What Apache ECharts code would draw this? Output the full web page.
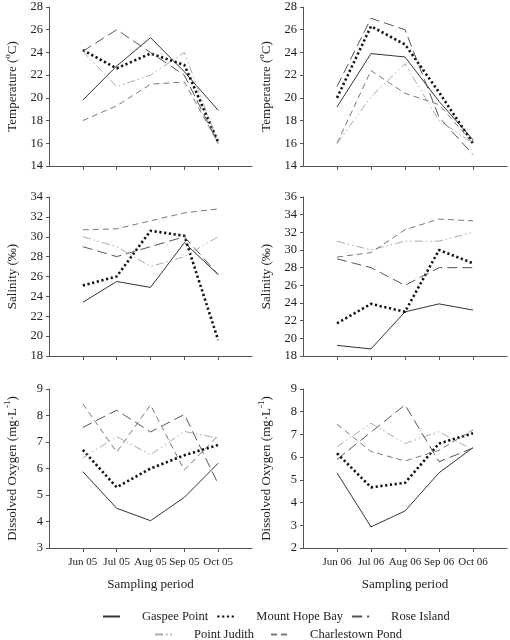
<!DOCTYPE html>
<html>
<head>
<meta charset="utf-8">
<script src="https://cdn.jsdelivr.net/npm/echarts@6/dist/echarts.min.js"></script>
<style>html,body{margin:0;padding:0;background:#fff}#c{width:510px;height:640px}</style>
</head>
<body>
<div id="c"></div>
<script>
const categories05 = ['Jun 05', 'Jul 05', 'Aug 05', 'Sep 05', 'Oct 05'];
const categories06 = ['Jun 06', 'Jul 06', 'Aug 06', 'Sep 06', 'Oct 06'];
const siteNames = ['Gaspee Point', 'Mount Hope Bay', 'Rose Island', 'Point Judith', 'Charlestown Pond'];

const temp05_gaspee = [19.8, 22.8, 25.3, 22.3, 18.9];
const temp05_mounthope = [24.2, 22.6, 23.9, 22.9, 16.1];
const temp05_rose = [24.1, 26.0, 24.0, 22.0, 16.0];
const temp05_judith = [24.1, 21.0, 22.0, 24.0, 16.0];
const temp05_charlestown = [18.0, 19.3, 21.2, 21.4, 16.0];

const temp06_gaspee = [19.2, 23.9, 23.6, 19.7, 16.3];
const temp06_mounthope = [20.0, 26.3, 24.7, 20.5, 16.0];
const temp06_rose = [21.0, 27.0, 26.0, 18.3, 15.0];
const temp06_judith = [16.0, 20.1, 23.0, 18.0, 16.0];
const temp06_charlestown = [16.0, 22.4, 20.4, 19.4, 16.0];

const sal05_gaspee = [23.4, 25.5, 24.9, 29.4, 26.2];
const sal05_mounthope = [25.1, 26.0, 30.6, 30.1, 19.6];
const sal05_rose = [29.0, 28.0, 29.0, 30.0, 26.2];
const sal05_judith = [30.0, 29.0, 27.0, 28.0, 30.0];
const sal05_charlestown = [30.7, 30.8, 31.6, 32.4, 32.8];

const sal06_gaspee = [19.2, 18.8, 23.0, 23.9, 23.2];
const sal06_mounthope = [21.7, 23.9, 23.0, 30.0, 28.5];
const sal06_rose = [29.0, 28.0, 26.0, 28.0, 28.0];
const sal06_judith = [31.0, 30.0, 31.0, 31.0, 32.0];
const sal06_charlestown = [29.2, 29.7, 32.3, 33.5, 33.3];

const do05_gaspee = [5.88, 4.5, 4.03, 4.91, 6.2];
const do05_mounthope = [6.7, 5.29, 6.0, 6.5, 6.89];
const do05_rose = [7.55, 8.2, 7.38, 8.04, 5.42];
const do05_judith = [6.4, 7.2, 6.52, 7.4, 7.14];
const do05_charlestown = [8.44, 6.62, 8.4, 5.94, 7.25];

const do06_gaspee = [5.31, 2.93, 3.63, 5.31, 6.42];
const do06_mounthope = [6.17, 4.67, 4.87, 6.6, 7.05];
const do06_rose = [5.9, 7.1, 8.3, 5.8, 6.4];
const do06_judith = [6.46, 7.49, 6.6, 7.12, 6.31];
const do06_charlestown = [7.45, 6.25, 5.83, 6.3, 7.2];

const panels = [
  { cats: categories05, data: [temp05_gaspee, temp05_mounthope, temp05_rose, temp05_judith, temp05_charlestown], min: 14, max: 28, step: 2, name: 'temp' },
  { cats: categories06, data: [temp06_gaspee, temp06_mounthope, temp06_rose, temp06_judith, temp06_charlestown], min: 14, max: 28, step: 2, name: 'temp' },
  { cats: categories05, data: [sal05_gaspee, sal05_mounthope, sal05_rose, sal05_judith, sal05_charlestown], min: 18, max: 34, step: 2, name: 'sal' },
  { cats: categories06, data: [sal06_gaspee, sal06_mounthope, sal06_rose, sal06_judith, sal06_charlestown], min: 18, max: 36, step: 2, name: 'sal' },
  { cats: categories05, data: [do05_gaspee, do05_mounthope, do05_rose, do05_judith, do05_charlestown], min: 3, max: 9, step: 1, name: 'do' },
  { cats: categories06, data: [do06_gaspee, do06_mounthope, do06_rose, do06_judith, do06_charlestown], min: 2, max: 9, step: 1, name: 'do' }
];

const FONT = "'Liberation Serif', 'Times New Roman', serif";
const styles = [
  { color: '#333', width: 1, type: 'solid' },
  { color: '#111', width: 2.6, type: [2.2, 2.6] },
  { color: '#555', width: 1, type: [10, 5] },
  { color: '#aaa', width: 1, type: [8, 3, 1.5, 3, 1.5, 3] },
  { color: '#777', width: 1, type: [6, 4] }
];

const names = {
  temp: '{n|Temperature (}{s|o}{n|C)}',
  sal: '{n|Salinity (‰)}',
  do: '{n|Dissolved Oxygen (mg·L}{s|-1}{n|)}'
};

const lefts = [49, 303];
const widths = [203, 204];
const tops = [7, 197, 389];
const H = 159;

const grid = [], xAxis = [], yAxis = [], series = [];
panels.forEach((p, i) => {
  const col = i % 2, row = Math.floor(i / 2);
  grid.push({ left: lefts[col], top: tops[row], width: widths[col], height: H });
  const bottom = row === 2;
  xAxis.push({
    type: 'category', gridIndex: i, boundaryGap: false,
    data: [''].concat(p.cats, ['']),
    axisLine: { lineStyle: { color: '#555', width: 1 } },
    axisTick: { show: true, length: 4, lineStyle: { color: '#555' }, interval: (idx) => idx >= 1 && idx <= 5 },
    axisLabel: { show: bottom, interval: 0, margin: 9, fontFamily: FONT, fontSize: 11, color: '#222' },
    name: bottom ? 'Sampling period' : '', nameLocation: 'middle', nameGap: 30,
    nameTextStyle: { fontFamily: FONT, fontSize: 13, color: '#222' },
    splitLine: { show: false }
  });
  yAxis.push({
    type: 'value', gridIndex: i, min: p.min, max: p.max, interval: p.step,
    axisLine: { show: true, lineStyle: { color: '#555', width: 1 } },
    axisTick: { show: true, length: 3, lineStyle: { color: '#555' } },
    axisLabel: { margin: 6, fontFamily: FONT, fontSize: 12.5, color: '#222' },
    splitLine: { show: false },
    name: names[p.name], nameLocation: 'middle', nameGap: 30,
    nameTextStyle: {
      fontFamily: FONT, fontSize: 13, color: '#222',
      rich: {
        n: { fontFamily: FONT, fontSize: 13, color: '#222', lineHeight: 16, verticalAlign: 'bottom' },
        s: { fontFamily: FONT, fontSize: 9, color: '#222', lineHeight: 16, verticalAlign: 'top' }
      }
    }
  });
  p.data.forEach((vals, k) => {
    series.push({
      type: 'line', name: siteNames[k], xAxisIndex: i, yAxisIndex: i,
      data: [null].concat(vals, [null]),
      symbol: 'none', silent: true, animation: false,
      lineStyle: styles[k], itemStyle: { color: styles[k].color }
    });
  });
});

const legendText = { fontFamily: FONT, fontSize: 12.5, color: '#222', padding: [0, 0, 0, 17] };
const legendCommon = { itemWidth: 17, itemHeight: 10, textStyle: legendText, selectedMode: false, itemStyle: { opacity: 0 } };
const option = {
  animation: false,
  grid, xAxis, yAxis, series,
  legend: [
    Object.assign({ data: siteNames.slice(0, 3), left: 97, top: 605, itemGap: 8 }, legendCommon),
    Object.assign({ data: siteNames.slice(3), left: 149, top: 623, itemGap: 16 }, legendCommon)
  ]
};
const chart = echarts.init(document.getElementById('c'), null, { renderer: 'canvas' });
chart.setOption(option);
</script>
</body>
</html>
